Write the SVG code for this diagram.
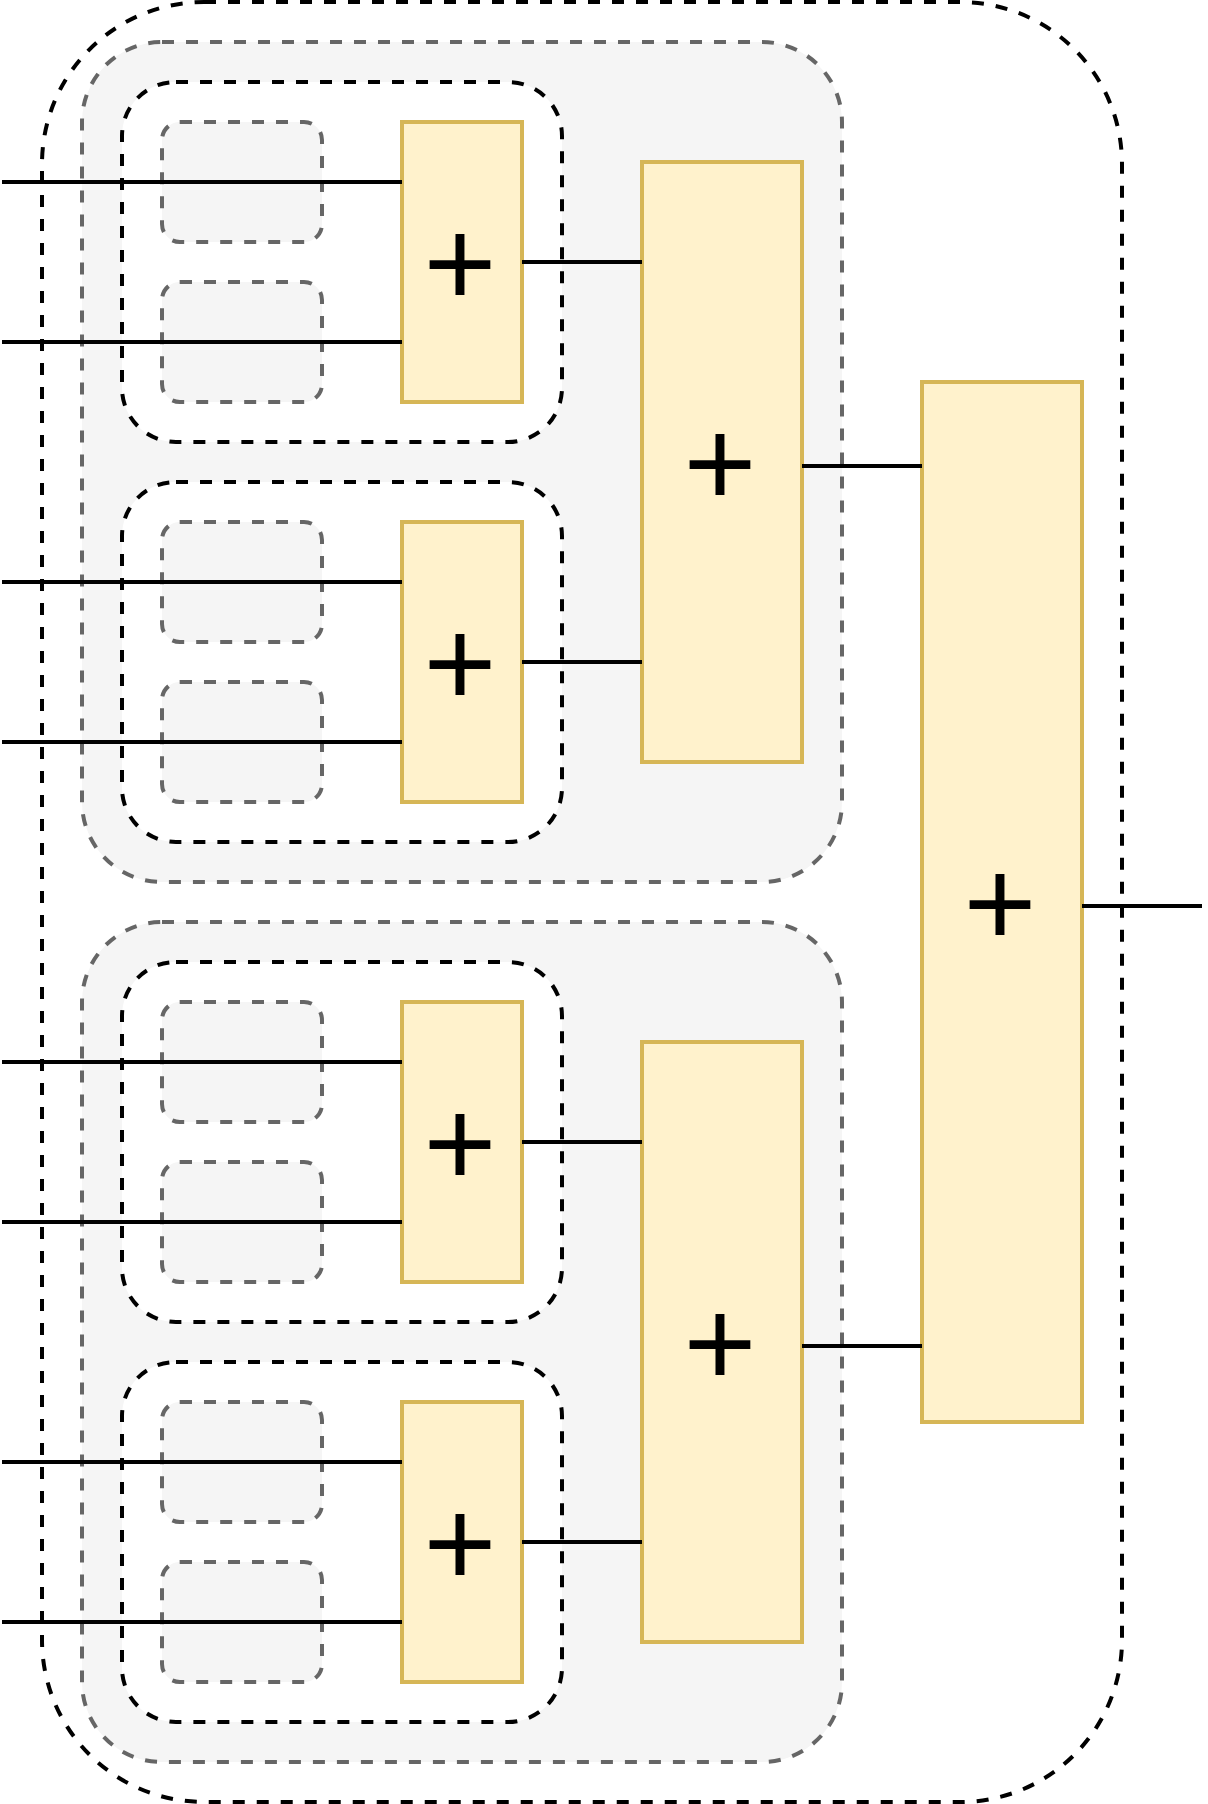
<svg xmlns="http://www.w3.org/2000/svg" width="1208" height="1804" viewBox="0 0 1208 1804">
<style>
.outer{fill:#ffffff;stroke:#000000;stroke-width:4;stroke-dasharray:12 12}
.grp{fill:#f5f5f5;stroke:#666666;stroke-width:4;stroke-dasharray:12 12}
.inner{fill:#ffffff;stroke:#000000;stroke-width:4;stroke-dasharray:12 12}
.slot{fill:#f5f5f5;stroke:#666666;stroke-width:4;stroke-dasharray:12 12}
.add{fill:#fff2cc;stroke:#d6b656;stroke-width:4}
.lbl{font-family:"Liberation Sans",Arial,sans-serif;font-size:125px;fill:#000000;text-anchor:middle}
.wire{fill:none;stroke:#000000;stroke-width:4}
</style>
<rect width="1208" height="1804" fill="#ffffff"/>
<g id="outer-container"><rect class="outer" x="42" y="2" width="1080" height="1800" rx="162" ry="162"/></g>
<g id="group-top"><rect class="grp" x="82" y="42" width="760" height="840" rx="80" ry="80"/></g>
<g id="group-bottom"><rect class="grp" x="82" y="922" width="760" height="840" rx="80" ry="80"/></g>
<g id="pair-1"><rect class="inner" x="122" y="82" width="440" height="360" rx="54" ry="54"/></g>
<g id="pair-2"><rect class="inner" x="122" y="482" width="440" height="360" rx="54" ry="54"/></g>
<g id="pair-3"><rect class="inner" x="122" y="962" width="440" height="360" rx="54" ry="54"/></g>
<g id="pair-4"><rect class="inner" x="122" y="1362" width="440" height="360" rx="54" ry="54"/></g>
<g id="slot-1"><rect class="slot" x="162" y="122" width="160" height="120" rx="18" ry="18"/></g>
<g id="slot-2"><rect class="slot" x="162" y="282" width="160" height="120" rx="18" ry="18"/></g>
<g id="slot-3"><rect class="slot" x="162" y="522" width="160" height="120" rx="18" ry="18"/></g>
<g id="slot-4"><rect class="slot" x="162" y="682" width="160" height="120" rx="18" ry="18"/></g>
<g id="slot-5"><rect class="slot" x="162" y="1002" width="160" height="120" rx="18" ry="18"/></g>
<g id="slot-6"><rect class="slot" x="162" y="1162" width="160" height="120" rx="18" ry="18"/></g>
<g id="slot-7"><rect class="slot" x="162" y="1402" width="160" height="120" rx="18" ry="18"/></g>
<g id="slot-8"><rect class="slot" x="162" y="1562" width="160" height="120" rx="18" ry="18"/></g>
<g id="add-1"><rect class="add" x="402" y="122" width="120" height="280"/><text class="lbl" x="460" y="306">+</text></g>
<g id="add-2"><rect class="add" x="402" y="522" width="120" height="280"/><text class="lbl" x="460" y="706">+</text></g>
<g id="add-3"><rect class="add" x="402" y="1002" width="120" height="280"/><text class="lbl" x="460" y="1186">+</text></g>
<g id="add-4"><rect class="add" x="402" y="1402" width="120" height="280"/><text class="lbl" x="460" y="1586">+</text></g>
<g id="add-5"><rect class="add" x="642" y="162" width="160" height="600"/><text class="lbl" x="720" y="506">+</text></g>
<g id="add-6"><rect class="add" x="642" y="1042" width="160" height="600"/><text class="lbl" x="720" y="1386">+</text></g>
<g id="add-7"><rect class="add" x="922" y="382" width="160" height="1040"/><text class="lbl" x="1000" y="946">+</text></g>
<g id="connectors">
<path class="wire" d="M2 182H402M2 342H402M2 582H402M2 742H402M2 1062H402M2 1222H402M2 1462H402M2 1622H402"/>
<path class="wire" d="M522 262H642M522 662H642M522 1142H642M522 1542H642"/>
<path class="wire" d="M802 466H922M802 1346H922"/>
<path class="wire" d="M1082 906H1202"/>
</g>
</svg>
